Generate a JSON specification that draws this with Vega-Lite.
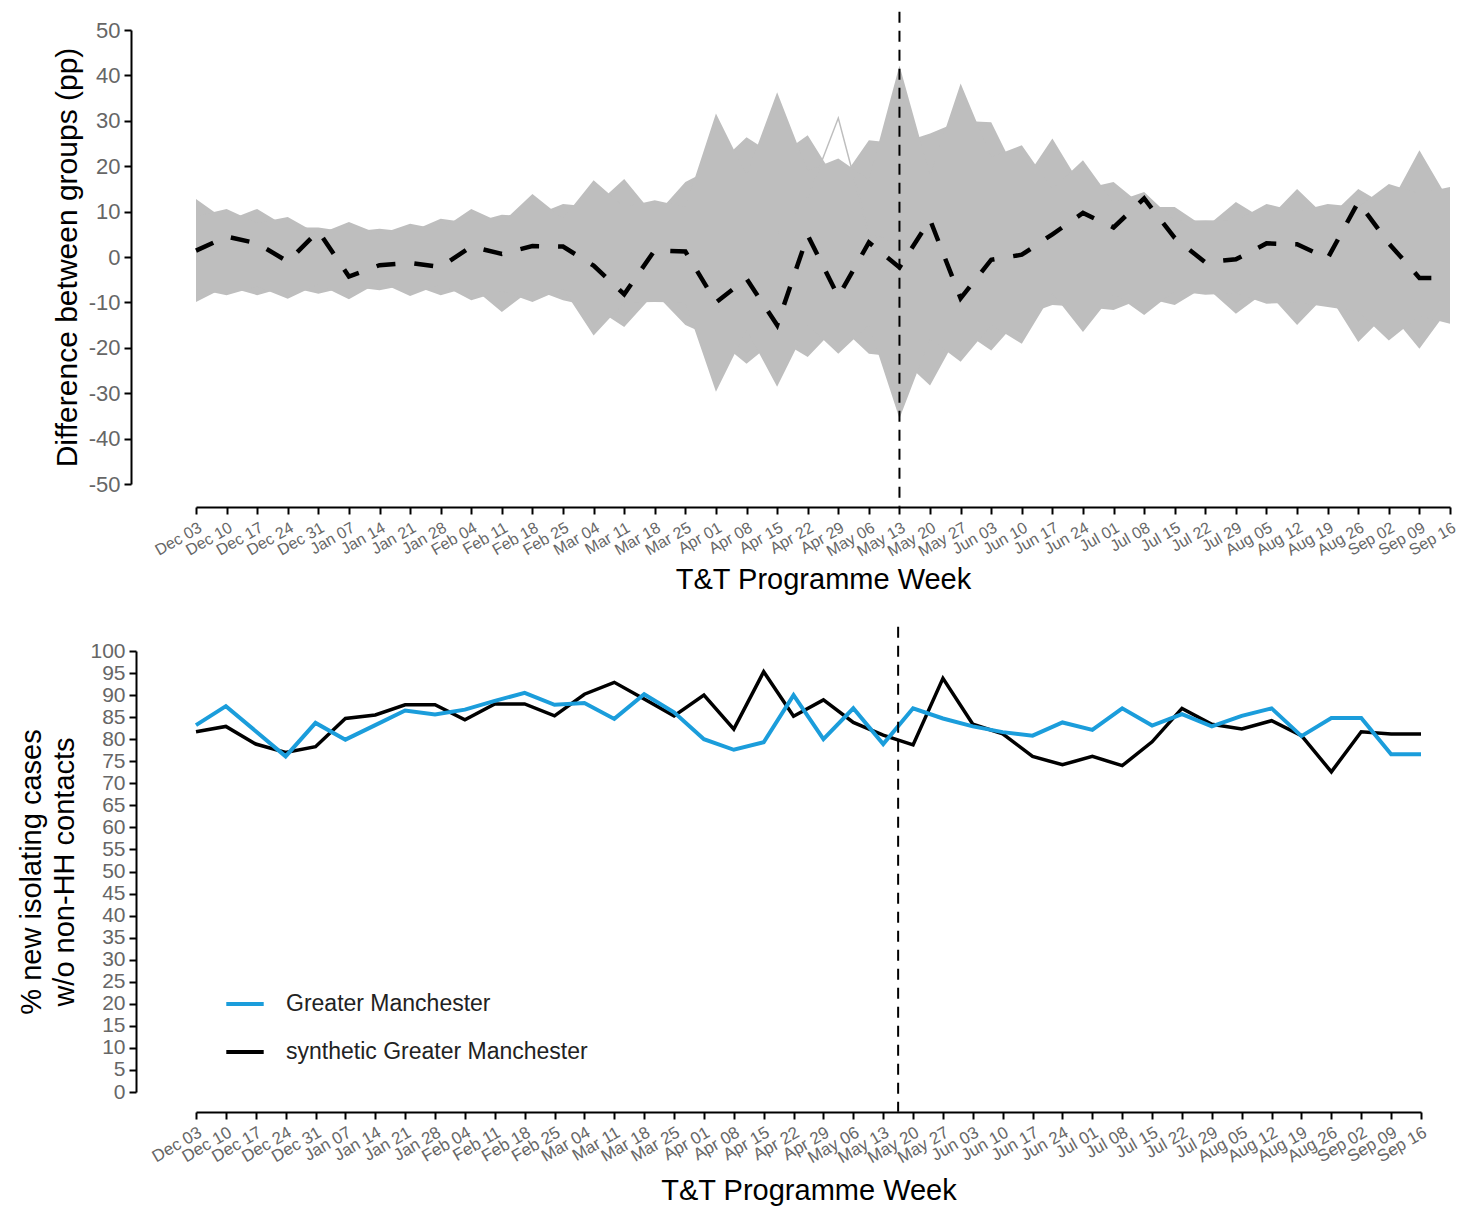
{
  "$schema": "https://vega.github.io/schema/vega-lite/v6.json",
  "padding": {"left": 17, "top": 10, "right": 2, "bottom": 2},
  "background": "white",
  "spacing": 30,
  "config": {
    "view": {"stroke": null},
    "font": "Liberation Sans",
    "axis": {"grid": false, "domainColor": "#000000", "domainWidth": 2, "tickColor": "#000000", "tickWidth": 2, "tickSize": 7, "labelColor": "#666666", "titleColor": "#000000", "titleFontWeight": "normal", "labelOverlap": false, "labelBound": false, "labelFlush": false}
  },
  "datasets": {
    "bands": [
      {"i":0,"band":"A","v":12.8,"v2":-9.9},{"i":1,"band":"A","v":8,"v2":-6.5},{"i":2,"band":"A","v":10.6,"v2":-8.4},{"i":3,"band":"A","v":6.5,"v2":-6.5},{"i":4,"band":"A","v":6.5,"v2":-8.1},{"i":5,"band":"A","v":5.5,"v2":-6.5},{"i":6,"band":"A","v":6.2,"v2":-7.3},{"i":7,"band":"A","v":5.5,"v2":-6},{"i":8,"band":"A","v":8.4,"v2":-8.4},{"i":9,"band":"A","v":7.5,"v2":-6.5},{"i":10,"band":"A","v":9.3,"v2":-12.1},{"i":11,"band":"A","v":9,"v2":-7},{"i":12,"band":"A","v":11.7,"v2":-9.5},{"i":13,"band":"A","v":11,"v2":-11},{"i":14,"band":"A","v":17.2,"v2":-15.4},{"i":15,"band":"A","v":9,"v2":-8},{"i":16,"band":"A","v":16.5,"v2":-15},{"i":17,"band":"A","v":20,"v2":-18},{"i":18,"band":"A","v":26.4,"v2":-23.5},{"i":19,"band":"A","v":22,"v2":-18},{"i":20,"band":"A","v":26.8,"v2":-22},{"i":21,"band":"A","v":16,"v2":-15},{"i":22,"band":"A","v":25.7,"v2":-21.3},{"i":23,"band":"A","v":25,"v2":-22},{"i":24,"band":"A","v":27.2,"v2":-28.3},{"i":25,"band":"A","v":30,"v2":-16},{"i":26,"band":"A","v":29.7,"v2":-20.6},{"i":27,"band":"A","v":16,"v2":-13},{"i":28,"band":"A","v":26.1,"v2":-10.6},{"i":29,"band":"A","v":15,"v2":-11},{"i":30,"band":"A","v":16.5,"v2":-11.7},{"i":31,"band":"A","v":11,"v2":-9},{"i":32,"band":"A","v":11,"v2":-10.6},{"i":33,"band":"A","v":6.5,"v2":-6.5},{"i":34,"band":"A","v":12.1,"v2":-12.5},{"i":35,"band":"A","v":8,"v2":-7.5},{"i":36,"band":"A","v":15,"v2":-15},{"i":37,"band":"A","v":8.5,"v2":-8},{"i":38,"band":"A","v":15,"v2":-18.7},{"i":39,"band":"A","v":11,"v2":-12},{"i":40,"band":"A","v":23.5,"v2":-20.2},{"i":41,"band":"A","v":12,"v2":-11},
      {"i":0,"band":"B","v":9,"v2":-7},{"i":1,"band":"B","v":10.6,"v2":-8.4},{"i":2,"band":"B","v":7.5,"v2":-6.5},{"i":3,"band":"B","v":8.8,"v2":-9.2},{"i":4,"band":"B","v":5,"v2":-6},{"i":5,"band":"B","v":7.7,"v2":-9.3},{"i":6,"band":"B","v":5,"v2":-5.5},{"i":7,"band":"B","v":7.3,"v2":-8.6},{"i":8,"band":"B","v":6,"v2":-6},{"i":9,"band":"B","v":10.6,"v2":-9.5},{"i":10,"band":"B","v":7.5,"v2":-7.5},{"i":11,"band":"B","v":13.9,"v2":-9.9},{"i":12,"band":"B","v":8.5,"v2":-7},{"i":13,"band":"B","v":16.9,"v2":-17.3},{"i":14,"band":"B","v":11,"v2":-10},{"i":15,"band":"B","v":12.5,"v2":-9.9},{"i":16,"band":"B","v":11,"v2":-10},{"i":17,"band":"B","v":31.6,"v2":-29.7},{"i":18,"band":"B","v":18,"v2":-16},{"i":19,"band":"B","v":36.3,"v2":-28.6},{"i":20,"band":"B","v":19,"v2":-15},{"i":21,"band":"B","v":21.7,"v2":-21.3},{"i":22,"band":"B","v":17,"v2":-15},{"i":23,"band":"B","v":42.2,"v2":-35.6},{"i":24,"band":"B","v":18,"v2":-18},{"i":25,"band":"B","v":38.2,"v2":-23.1},{"i":26,"band":"B","v":22,"v2":-15},{"i":27,"band":"B","v":24.6,"v2":-19.1},{"i":28,"band":"B","v":15,"v2":-8},{"i":29,"band":"B","v":21.3,"v2":-16.5},{"i":30,"band":"B","v":12,"v2":-8},{"i":31,"band":"B","v":14.3,"v2":-12.8},{"i":32,"band":"B","v":8,"v2":-7.5},{"i":33,"band":"B","v":8.1,"v2":-8.3},{"i":34,"band":"B","v":8,"v2":-8},{"i":35,"band":"B","v":11.7,"v2":-10.3},{"i":36,"band":"B","v":10,"v2":-10},{"i":37,"band":"B","v":11.7,"v2":-11},{"i":38,"band":"B","v":11,"v2":-12},{"i":39,"band":"B","v":16.1,"v2":-18.4},{"i":40,"band":"B","v":14,"v2":-13},{"i":41,"band":"B","v":15.4,"v2":-14.7}
    ],
    "outlier": [
      {"i":19,"v":5},{"i":20,"v":13},{"i":21,"v":30.6},{"i":22,"v":5},{"i":23,"v":3}
    ],
    "diff": [
      {"i":0,"v":1.4},{"i":1,"v":4.5},{"i":2,"v":3.0},{"i":3,"v":-1.0},{"i":4,"v":5.7},{"i":5,"v":-4.3},{"i":6,"v":-1.8},{"i":7,"v":-1.3},{"i":8,"v":-2.2},{"i":9,"v":2.3},{"i":10,"v":0.7},{"i":11,"v":2.4},{"i":12,"v":2.3},{"i":13,"v":-1.9},{"i":14,"v":-8.2},{"i":15,"v":1.5},{"i":16,"v":1.2},{"i":17,"v":-10.0},{"i":18,"v":-4.8},{"i":19,"v":-15.0},{"i":20,"v":4.8},{"i":21,"v":-8.7},{"i":22,"v":3.2},{"i":23,"v":-2.3},{"i":24,"v":8.2},{"i":25,"v":-9.1},{"i":26,"v":-0.6},{"i":27,"v":0.5},{"i":28,"v":5.0},{"i":29,"v":9.7},{"i":30,"v":6.5},{"i":31,"v":12.9},{"i":32,"v":4.2},{"i":33,"v":-1.2},{"i":34,"v":-0.5},{"i":35,"v":3.0},{"i":36,"v":2.8},{"i":37,"v":-0.3},{"i":38,"v":12.1},{"i":39,"v":3.0},{"i":40,"v":-4.6},{"i":41,"v":-4.6}
    ],
    "gm": [
      {"i":0,"series":"Greater Manchester","value":83.2},{"i":1,"series":"Greater Manchester","value":87.5},{"i":2,"series":"Greater Manchester","value":81.8},{"i":3,"series":"Greater Manchester","value":76.1},{"i":4,"series":"Greater Manchester","value":83.7},{"i":5,"series":"Greater Manchester","value":79.9},{"i":6,"series":"Greater Manchester","value":83.2},{"i":7,"series":"Greater Manchester","value":86.5},{"i":8,"series":"Greater Manchester","value":85.6},{"i":9,"series":"Greater Manchester","value":86.7},{"i":10,"series":"Greater Manchester","value":88.7},{"i":11,"series":"Greater Manchester","value":90.5},{"i":12,"series":"Greater Manchester","value":87.8},{"i":13,"series":"Greater Manchester","value":88.2},{"i":14,"series":"Greater Manchester","value":84.6},{"i":15,"series":"Greater Manchester","value":90.2},{"i":16,"series":"Greater Manchester","value":86.1},{"i":17,"series":"Greater Manchester","value":80.0},{"i":18,"series":"Greater Manchester","value":77.6},{"i":19,"series":"Greater Manchester","value":79.3},{"i":20,"series":"Greater Manchester","value":90.0},{"i":21,"series":"Greater Manchester","value":80.0},{"i":22,"series":"Greater Manchester","value":87.0},{"i":23,"series":"Greater Manchester","value":78.9},{"i":24,"series":"Greater Manchester","value":87.0},{"i":25,"series":"Greater Manchester","value":84.7},{"i":26,"series":"Greater Manchester","value":82.9},{"i":27,"series":"Greater Manchester","value":81.6},{"i":28,"series":"Greater Manchester","value":80.8},{"i":29,"series":"Greater Manchester","value":83.8},{"i":30,"series":"Greater Manchester","value":82.1},{"i":31,"series":"Greater Manchester","value":87.0},{"i":32,"series":"Greater Manchester","value":83.1},{"i":33,"series":"Greater Manchester","value":85.7},{"i":34,"series":"Greater Manchester","value":82.9},{"i":35,"series":"Greater Manchester","value":85.3},{"i":36,"series":"Greater Manchester","value":87.0},{"i":37,"series":"Greater Manchester","value":80.7},{"i":38,"series":"Greater Manchester","value":84.8},{"i":39,"series":"Greater Manchester","value":84.8},{"i":40,"series":"Greater Manchester","value":76.6},{"i":41,"series":"Greater Manchester","value":76.6},
      {"i":0,"series":"synthetic Greater Manchester","value":81.7},{"i":1,"series":"synthetic Greater Manchester","value":82.9},{"i":2,"series":"synthetic Greater Manchester","value":78.9},{"i":3,"series":"synthetic Greater Manchester","value":77.0},{"i":4,"series":"synthetic Greater Manchester","value":78.3},{"i":5,"series":"synthetic Greater Manchester","value":84.7},{"i":6,"series":"synthetic Greater Manchester","value":85.5},{"i":7,"series":"synthetic Greater Manchester","value":87.8},{"i":8,"series":"synthetic Greater Manchester","value":87.8},{"i":9,"series":"synthetic Greater Manchester","value":84.4},{"i":10,"series":"synthetic Greater Manchester","value":88.0},{"i":11,"series":"synthetic Greater Manchester","value":88.0},{"i":12,"series":"synthetic Greater Manchester","value":85.3},{"i":13,"series":"synthetic Greater Manchester","value":90.2},{"i":14,"series":"synthetic Greater Manchester","value":92.9},{"i":15,"series":"synthetic Greater Manchester","value":89.1},{"i":16,"series":"synthetic Greater Manchester","value":85.3},{"i":17,"series":"synthetic Greater Manchester","value":90.0},{"i":18,"series":"synthetic Greater Manchester","value":82.3},{"i":19,"series":"synthetic Greater Manchester","value":95.3},{"i":20,"series":"synthetic Greater Manchester","value":85.2},{"i":21,"series":"synthetic Greater Manchester","value":88.9},{"i":22,"series":"synthetic Greater Manchester","value":83.8},{"i":23,"series":"synthetic Greater Manchester","value":80.9},{"i":24,"series":"synthetic Greater Manchester","value":78.7},{"i":25,"series":"synthetic Greater Manchester","value":93.8},{"i":26,"series":"synthetic Greater Manchester","value":83.4},{"i":27,"series":"synthetic Greater Manchester","value":81.2},{"i":28,"series":"synthetic Greater Manchester","value":76.1},{"i":29,"series":"synthetic Greater Manchester","value":74.2},{"i":30,"series":"synthetic Greater Manchester","value":76.1},{"i":31,"series":"synthetic Greater Manchester","value":74.0},{"i":32,"series":"synthetic Greater Manchester","value":79.4},{"i":33,"series":"synthetic Greater Manchester","value":87.0},{"i":34,"series":"synthetic Greater Manchester","value":83.4},{"i":35,"series":"synthetic Greater Manchester","value":82.3},{"i":36,"series":"synthetic Greater Manchester","value":84.2},{"i":37,"series":"synthetic Greater Manchester","value":80.8},{"i":38,"series":"synthetic Greater Manchester","value":72.6},{"i":39,"series":"synthetic Greater Manchester","value":81.7},{"i":40,"series":"synthetic Greater Manchester","value":81.2},{"i":41,"series":"synthetic Greater Manchester","value":81.2}
    ]
  },
  "vconcat": [
    {
      "width": 1254,
      "height": 454,
      "encoding": {
        "x": {"field": "i", "type": "quantitative", "scale": {"domain": [0, 41], "nice": false, "zero": false},
          "axis": {"values": [0,1,2,3,4,5,6,7,8,9,10,11,12,13,14,15,16,17,18,19,20,21,22,23,24,25,26,27,28,29,30,31,32,33,34,35,36,37,38,39,40,41],
            "labelExpr": "['Dec 03','Dec 10','Dec 17','Dec 24','Dec 31','Jan 07','Jan 14','Jan 21','Jan 28','Feb 04','Feb 11','Feb 18','Feb 25','Mar 04','Mar 11','Mar 18','Mar 25','Apr 01','Apr 08','Apr 15','Apr 22','Apr 29','May 06','May 13','May 20','May 27','Jun 03','Jun 10','Jun 17','Jun 24','Jul 01','Jul 08','Jul 15','Jul 22','Jul 29','Aug 05','Aug 12','Aug 19','Aug 26','Sep 02','Sep 09','Sep 16'][datum.value]",
            "labelAngle": -30, "labelAlign": "right", "labelBaseline": "top", "labelFontSize": 16, "labelPadding": 5, "labelOffset": 0,
            "offset": 23, "title": "T&T Programme Week", "titleFontSize": 29, "titlePadding": 6}},
        "y": {"field": "v", "type": "quantitative", "scale": {"domain": [-50, 50], "nice": false, "zero": false},
          "axis": {"values": [-50,-40,-30,-20,-10,0,10,20,30,40,50], "labelExpr": "'' + datum.value", "title": "Difference between groups (pp)", "titleFontSize": 30, "labelFontSize": 22, "offset": 65, "titlePadding": 6, "labelPadding": 4}}
      },
      "layer": [
        {
          "data": {"name": "bands"},
          "mark": {"type": "area", "color": "#bebebe", "opacity": 1},
          "encoding": {"y2": {"field": "v2"}, "detail": {"field": "band"}}
        },
        {
          "data": {"name": "outlier"},
          "mark": {"type": "line", "color": "#bebebe", "strokeWidth": 1.5},
          "encoding": {}
        },
        {
          "data": {"name": "diff"},
          "mark": {"type": "line", "color": "#000000", "strokeWidth": 4.5, "strokeDash": [19, 19]},
          "encoding": {}
        },
        {
          "data": {"values": [{"i": 23, "v": 54, "v2": -55}]},
          "mark": {"type": "rule", "color": "#000000", "strokeWidth": 2, "strokeDash": [11, 8]},
          "encoding": {"y2": {"field": "v2"}}
        }
      ]
    },
    {
      "width": 1225,
      "height": 441,
      "encoding": {
        "x": {"field": "i", "type": "quantitative", "scale": {"domain": [0, 41], "nice": false, "zero": false},
          "axis": {"values": [0,1,2,3,4,5,6,7,8,9,10,11,12,13,14,15,16,17,18,19,20,21,22,23,24,25,26,27,28,29,30,31,32,33,34,35,36,37,38,39,40,41],
            "labelExpr": "['Dec 03','Dec 10','Dec 17','Dec 24','Dec 31','Jan 07','Jan 14','Jan 21','Jan 28','Feb 04','Feb 11','Feb 18','Feb 25','Mar 04','Mar 11','Mar 18','Mar 25','Apr 01','Apr 08','Apr 15','Apr 22','Apr 29','May 06','May 13','May 20','May 27','Jun 03','Jun 10','Jun 17','Jun 24','Jul 01','Jul 08','Jul 15','Jul 22','Jul 29','Aug 05','Aug 12','Aug 19','Aug 26','Sep 02','Sep 09','Sep 16'][datum.value]",
            "labelAngle": -30, "labelAlign": "right", "labelBaseline": "top", "labelFontSize": 17, "labelPadding": 5, "labelOffset": 0,
            "offset": 20, "title": "T&T Programme Week", "titleFontSize": 29, "titlePadding": 11}},
        "y": {"field": "value", "type": "quantitative", "scale": {"domain": [0, 100], "nice": false, "zero": false},
          "axis": {"values": [0,5,10,15,20,25,30,35,40,45,50,55,60,65,70,75,80,85,90,95,100], "title": ["% new isolating cases", "w/o non-HH contacts"], "titleFontSize": 29, "titleLineHeight": 33, "labelFontSize": 21, "offset": 60, "titlePadding": 10, "labelPadding": 4}}
      },
      "layer": [
        {
          "data": {"name": "gm"},
          "transform": [{"filter": "datum.series == 'synthetic Greater Manchester'"}],
          "mark": {"type": "line", "strokeWidth": 3.5},
          "encoding": {
            "color": {"field": "series", "type": "nominal",
              "scale": {"domain": ["Greater Manchester", "synthetic Greater Manchester"], "range": ["#1b9ddb", "#000000"]},
              "legend": {"orient": "none", "legendX": 28, "legendY": 953, "title": null, "symbolType": "stroke", "symbolSize": 1400, "symbolStrokeWidth": 4, "labelFontSize": 23, "labelLimit": 0, "labelColor": "#222222", "labelOffset": 20, "rowPadding": 15}}
          }
        },
        {
          "data": {"name": "gm"},
          "transform": [{"filter": "datum.series == 'Greater Manchester'"}],
          "mark": {"type": "line", "strokeWidth": 4},
          "encoding": {
            "color": {"field": "series", "type": "nominal",
              "scale": {"domain": ["Greater Manchester", "synthetic Greater Manchester"], "range": ["#1b9ddb", "#000000"]},
              "legend": {"orient": "none", "legendX": 28, "legendY": 953, "title": null, "symbolType": "stroke", "symbolSize": 1400, "symbolStrokeWidth": 4, "labelFontSize": 23, "labelLimit": 0, "labelColor": "#222222", "labelOffset": 20, "rowPadding": 15}}
          }
        },
        {
          "data": {"values": [{"i": 23.5, "value": 105.5, "v2": -4.5}]},
          "mark": {"type": "rule", "color": "#000000", "strokeWidth": 2, "strokeDash": [11, 8]},
          "encoding": {"y2": {"field": "v2"}}
        }
      ]
    }
  ]
}
